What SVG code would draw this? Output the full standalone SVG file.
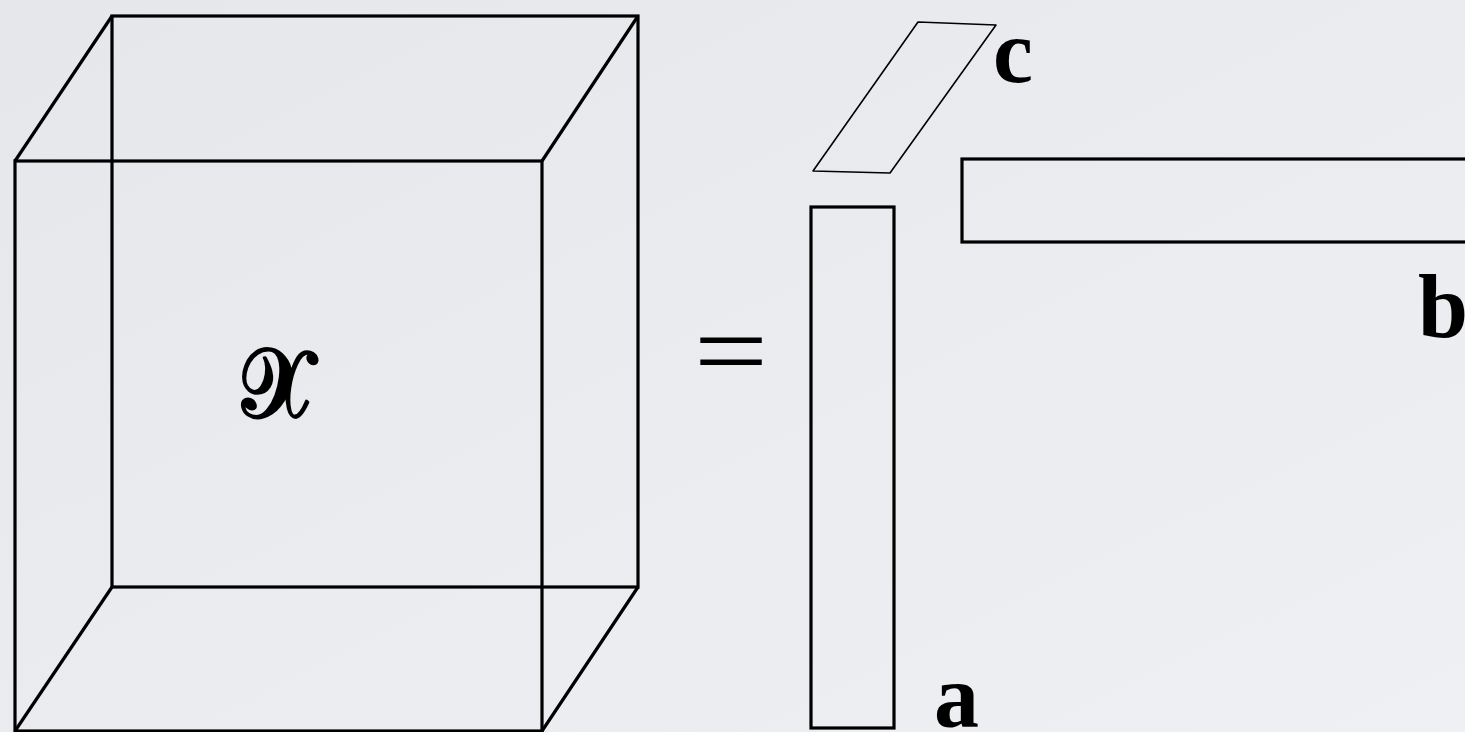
<svg xmlns="http://www.w3.org/2000/svg" width="1465" height="732" viewBox="0 0 1465 732">
  <defs>
    <linearGradient id="bg" x1="0" y1="0" x2="1" y2="1">
      <stop offset="0" stop-color="#e6e7eb"/>
      <stop offset="1" stop-color="#eff0f3"/>
    </linearGradient>
    <style>
      .edge { fill: none; stroke: #000; stroke-width: 3.2; stroke-linejoin: miter; }
      .thin { fill: none; stroke: #000; stroke-width: 1.6; stroke-linejoin: round; }
      .lbl { font-family: "Liberation Serif", "DejaVu Serif", serif; font-weight: bold; font-size: 90px; fill: #000; }
      .eq { font-family: "Liberation Serif", "DejaVu Serif", serif; font-size: 120px; fill: #000; }
      .cal { font-family: "DejaVu Serif", "Noto Sans", "Liberation Serif", serif; font-size: 96px; fill: #000; stroke: #000; stroke-width: 3; stroke-linejoin: round; }
    </style>
  </defs>
  <rect width="1465" height="732" fill="url(#bg)"/>

  <g id="tensor-X">
    <rect class="edge" x="112" y="16" width="526" height="571"/>
    <rect class="edge" x="15" y="161" width="527" height="570"/>
    <line class="edge" x1="15" y1="161" x2="112" y2="16"/>
    <line class="edge" x1="542" y1="161" x2="638" y2="16"/>
    <line class="edge" x1="15" y1="731" x2="112" y2="587"/>
    <line class="edge" x1="542" y1="731" x2="638" y2="587"/>
    <text class="cal" transform="translate(283,417) skewX(14) scale(0.93,1.02)" x="0" y="0" text-anchor="middle">𝒳</text>
  </g>

  <g id="equals">
    <text class="eq" transform="translate(731,388) scale(1.1,0.92)" x="0" y="0" text-anchor="middle">=</text>
  </g>

  <g id="factor-a">
    <rect class="edge" x="811" y="207" width="83" height="521"/>
    <text class="lbl" x="934" y="727">a</text>
  </g>

  <g id="factor-c">
    <polygon class="thin" points="918,22 996,25 890,173 813,171"/>
    <text class="lbl" x="993" y="82">c</text>
  </g>

  <g id="factor-b">
    <rect class="edge" x="962" y="159" width="540" height="83"/>
    <text class="lbl" x="1418" y="337">b</text>
  </g>

  <g id="connectors"></g>
</svg>
